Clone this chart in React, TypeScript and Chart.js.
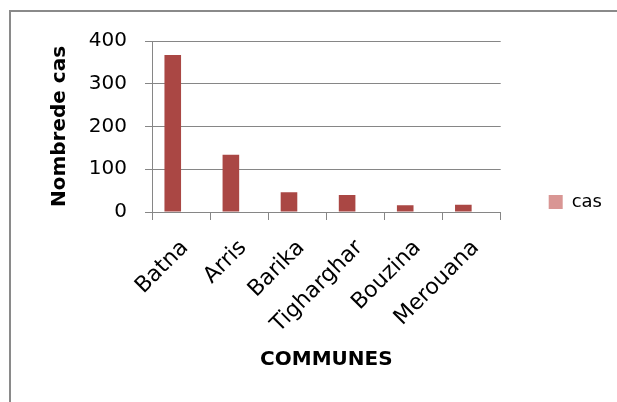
import React, { useEffect, useRef } from "react";
import { Chart, registerables } from "chart.js";

Chart.register(...registerables);

const communes = ["Batna", "Arris", "Barika", "Tigharghar", "Bouzina", "Merouana"];
const cas = [367, 134, 46, 40, 16, 17];
// The source chart reserves a second (empty) bar slot in every category.
const emptySeries = [null, null, null, null, null, null];
const yTicks = [0, 100, 200, 300, 400];
const seriesLabel = "cas";
const xTitle = "COMMUNES";
const yTitle = "Nombrede cas";

const BAR = "#AA4744";
const LEGEND_SWATCH = "#D99694";
const GRID = "#868686";
const FRAME = "#8a8a8a";
const FONT = "DejaVu Sans";

const framePlugin = {
  id: "frame",
  beforeDraw(chart: any) {
    const ctx = chart.ctx;
    ctx.save();
    ctx.strokeStyle = FRAME;
    ctx.lineWidth = 2;
    ctx.beginPath();
    ctx.moveTo(10, chart.height + 5);
    ctx.lineTo(10, 11);
    ctx.lineTo(chart.width + 5, 11);
    ctx.stroke();
    ctx.restore();
  },
};

export default function App() {
  const ref = useRef<HTMLCanvasElement>(null);

  useEffect(() => {
    const chart = new Chart(ref.current as HTMLCanvasElement, {
      type: "bar",
      data: {
        labels: communes,
        datasets: [
          {
            label: seriesLabel,
            data: cas,
            backgroundColor: BAR,
            borderWidth: 0,
            categoryPercentage: 0.5714,
            barPercentage: 1,
          },
          {
            label: "",
            data: emptySeries as any,
            backgroundColor: BAR,
            borderWidth: 0,
            categoryPercentage: 0.5714,
            barPercentage: 1,
          },
        ],
      },
      plugins: [framePlugin],
      options: {
        animation: false,
        responsive: false,
        maintainAspectRatio: false,
        layout: { padding: { left: 40, right: 5, top: 41, bottom: 39 } },
        plugins: {
          tooltip: { enabled: false },
          legend: {
            position: "right",
            align: "center",
            labels: {
              boxWidth: 14,
              boxHeight: 14,
              padding: 48,
              color: "#000",
              font: { family: FONT, size: 18 },
              filter: (item: any) => item.datasetIndex === 0,
              generateLabels: (c: any) =>
                (Chart.defaults.plugins.legend.labels.generateLabels as any)(c).map((l: any) => ({
                  ...l,
                  fillStyle: LEGEND_SWATCH,
                  strokeStyle: LEGEND_SWATCH,
                  lineWidth: 0,
                })),
            },
          },
        },
        scales: {
          x: {
            offset: true,
            afterFit: (s: any) => {
              s.height = 151;
            },
            grid: {
              display: true,
              drawOnChartArea: false,
              drawTicks: true,
              tickLength: 8,
              color: GRID,
              offset: true,
            },
            border: { color: GRID, width: 1 },
            ticks: {
              autoSkip: false,
              maxRotation: 45,
              minRotation: 45,
              padding: 15,
              labelOffset: 4,
              color: "#000",
              font: { family: FONT, size: 22 },
            },
            title: {
              display: true,
              text: xTitle,
              color: "#000",
              font: { family: FONT, size: 20, weight: "bold" },
              padding: { top: 0, bottom: -9 },
            },
          },
          y: {
            min: 0,
            max: 400,
            afterFit: (s: any) => {
              s.width = 112;
            },
            afterBuildTicks: (s: any) => {
              s.ticks = yTicks.map((v) => ({ value: v }));
            },
            ticks: {
              padding: 18,
              color: "#000",
              font: { family: FONT, size: 20 },
            },
            grid: { color: GRID, lineWidth: 1, tickLength: 7, drawTicks: true },
            border: { color: GRID, width: 1 },
            title: {
              display: true,
              text: yTitle,
              color: "#000",
              font: { family: FONT, size: 20, weight: "bold" },
              padding: { top: 8, bottom: 0 },
            },
          },
        },
      },
    });
    return () => chart.destroy();
  }, []);

  return (
    <div
      style={{
        position: "absolute",
        left: 0,
        top: 0,
        width: 617,
        height: 402,
        overflow: "hidden",
        background: "#fff",
      }}
    >
      <canvas
        ref={ref}
        width={617}
        height={402}
        style={{ position: "absolute", left: 0, top: 0 }}
      />
    </div>
  );
}
